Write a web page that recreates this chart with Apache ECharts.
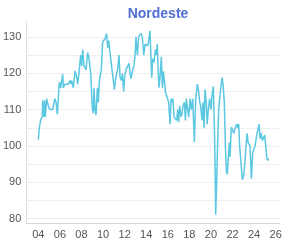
<!DOCTYPE html>
<html>
<head>
<meta charset="utf-8">
<script src="https://cdn.jsdelivr.net/npm/echarts@6/dist/echarts.min.js"></script>
<style>
  html, body { margin: 0; padding: 0; background: #fff; }
  #myChart { width: 285px; height: 243px; }
</style>
</head>
<body>
<div id="myChart"></div>
<script>
var title = 'Nordeste';

// decimal years of each reading
var dates = [
  2004.00, 2004.09, 2004.22, 2004.31, 2004.37, 2004.40, 2004.53, 2004.59, 2004.65, 2004.77,
  2004.93, 2005.08, 2005.24, 2005.33, 2005.45, 2005.55, 2005.64, 2005.76, 2005.95, 2006.07,
  2006.16, 2006.26, 2006.32, 2006.47, 2006.63, 2006.78, 2006.94, 2007.03, 2007.09, 2007.24,
  2007.40, 2007.55, 2007.65, 2007.80, 2007.92, 2008.02, 2008.11, 2008.23, 2008.33, 2008.42,
  2008.57, 2008.70, 2008.85, 2009.01, 2009.10, 2009.16, 2009.25, 2009.35, 2009.47, 2009.56,
  2009.66, 2009.78, 2009.84, 2009.96, 2010.09, 2010.18, 2010.33, 2010.43, 2010.52, 2010.71,
  2010.80, 2010.89, 2011.05, 2011.14, 2011.26, 2011.35, 2011.48, 2011.57, 2011.69, 2011.79,
  2011.91, 2012.00, 2012.13, 2012.25, 2012.41, 2012.50, 2012.59, 2012.75, 2012.87, 2012.99,
  2013.05, 2013.18, 2013.30, 2013.49, 2013.64, 2013.77, 2013.89, 2014.04, 2014.14, 2014.23,
  2014.35, 2014.51, 2014.60, 2014.72, 2014.85, 2014.94, 2015.03, 2015.09, 2015.19, 2015.28,
  2015.40, 2015.50, 2015.59, 2015.68, 2015.77, 2015.87, 2015.96, 2016.08, 2016.21, 2016.30,
  2016.39, 2016.48, 2016.58, 2016.73, 2016.82, 2016.92, 2017.01, 2017.10, 2017.23, 2017.32,
  2017.41, 2017.54, 2017.63, 2017.72, 2017.84, 2017.94, 2018.06, 2018.18, 2018.31, 2018.46,
  2018.59, 2018.74, 2018.86, 2018.96, 2019.05, 2019.17, 2019.27, 2019.36, 2019.45, 2019.57,
  2019.64, 2019.76, 2019.88, 2020.01, 2020.10, 2020.22, 2020.32, 2020.38, 2020.44, 2020.53,
  2020.63, 2020.72, 2020.84, 2020.93, 2021.03, 2021.12, 2021.24, 2021.34, 2021.43, 2021.52,
  2021.61, 2021.71, 2021.77, 2021.89, 2022.02, 2022.11, 2022.20, 2022.29, 2022.39, 2022.48,
  2022.57, 2022.66, 2022.79, 2022.91, 2023.04, 2023.16, 2023.25, 2023.35, 2023.44, 2023.53,
  2023.62, 2023.75, 2023.87, 2023.96, 2024.09, 2024.24, 2024.33, 2024.46, 2024.55, 2024.64,
  2024.77, 2024.86, 2024.98, 2025.08, 2025.17, 2025.26, 2025.35
];

var values = [
  101.7, 105, 107.2, 107, 108, 112.6, 108, 112.5, 108, 113,
  111, 110, 110, 110, 112, 113, 112, 108.7, 117.6, 116,
  115.5, 119.7, 116, 117, 116.5, 117, 118, 117, 118, 116,
  120.6, 119, 117, 121, 125, 122, 126.5, 122, 121.5, 121,
  125.7, 124, 120, 110.3, 109, 116, 110, 108.5, 116, 112,
  118, 120, 121, 128.6, 129, 129.5, 130.9, 127, 129, 124,
  124.5, 119.5, 115.5, 118, 120, 121, 125, 119, 118, 120,
  115, 119, 121, 121, 122.7, 120, 118.5, 121, 122, 126,
  130, 125, 130, 131, 130, 125, 128, 128.5, 127.5, 129,
  131.7, 118.8, 124, 123, 126.5, 125, 128, 122, 116, 119,
  124.5, 116, 120.5, 118, 115, 114, 114.5, 112, 106, 113,
  112, 113, 108, 108, 107, 110, 106.5, 111, 108, 109,
  111, 112, 107, 113, 110, 108, 113, 110, 113, 101.1,
  113, 117, 115, 112, 111, 107, 112, 105, 115.5, 112,
  106, 110, 113, 110, 114, 116.4, 105, 95, 81.1, 90,
  102, 110, 114, 116.5, 118.8, 117, 112, 100, 93, 92.2,
  97, 101, 97, 105.2, 105, 103.5, 104.5, 105, 106, 105,
  106, 100, 99.5, 90.7, 92, 96, 100, 103.5, 101, 101,
  100, 91, 98, 99, 100, 103, 103, 106, 102, 103.5,
  101.5, 101, 103, 102.5, 97, 96, 96.5
];

var xTicks = [2004, 2006, 2008, 2010, 2012, 2014, 2016, 2018, 2020, 2022, 2024, 2026];
var yGrid = [80, 85, 90, 95, 100, 105, 110, 115, 120, 125, 130];
var yLabels = [80, 90, 100, 110, 120, 130];

var seriesData = dates.map(function(d, i){
  return [d, values[i]];
});

var myChart = echarts.init(document.getElementById('myChart'));
myChart.setOption({
  animation: false,
  title: {
    text: title,
    left: 153,
    textAlign: 'center',
    top: 2,
    textStyle: {
      color: '#4f6fd3',
      fontSize: 14,
      fontWeight: 'bold',
      fontFamily: 'Liberation Sans, Arial, sans-serif'
    }
  },
  grid: { left: 26, right: 5, top: 22, bottom: 20, containLabel: false },
  xAxis: {
    type: 'value',
    min: 2002.89,
    max: 2026.4,
    axisLine: { show: true, lineStyle: { color: '#d6d6d6' } },
    axisTick: { show: false, customValues: xTicks },
    splitLine: { show: false },
    axisLabel: {
      customValues: xTicks,
      color: '#555',
      fontSize: 11,
      margin: 6,
      fontFamily: 'Liberation Sans, Arial, sans-serif',
      formatter: function(v){ return String(Math.round(v)).slice(2); }
    }
  },
  yAxis: {
    type: 'value',
    min: 78.8,
    max: 134.1,
    axisLine: { show: true, lineStyle: { color: '#e0e0e0' } },
    axisTick: { show: false, customValues: yGrid },
    splitLine: { show: true, lineStyle: { color: '#efefef' } },
    axisLabel: {
      customValues: yLabels,
      color: '#555',
      fontSize: 11,
      margin: 5,
      fontFamily: 'Liberation Sans, Arial, sans-serif'
    }
  },
  series: [{
    type: 'line',
    data: seriesData,
    showSymbol: false,
    lineStyle: { color: '#5bc8e1', width: 1.5 },
    itemStyle: { color: '#5bc8e1' }
  }]
});
</script>
</body>
</html>
